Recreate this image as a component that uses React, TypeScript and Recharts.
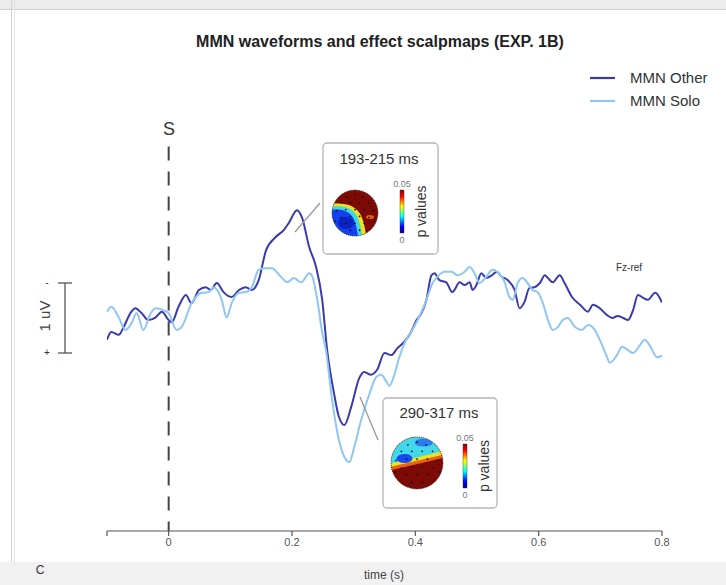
import React from 'react';
import { LineChart, Line, XAxis, YAxis, ReferenceLine } from 'recharts';

// ---- data (time in s, amplitude in µV; negative plotted upwards) ----
const otherTimes = [-0.1, -0.093, -0.081, -0.073, -0.062, -0.054, -0.044, -0.033, -0.021, -0.011, 0.0, 0.005, 0.016, 0.028, 0.037, 0.049, 0.06, 0.068, 0.078, 0.089, 0.102, 0.114, 0.125, 0.135, 0.146, 0.158, 0.174, 0.187, 0.195, 0.208, 0.216, 0.228, 0.239, 0.249, 0.257, 0.268, 0.276, 0.285, 0.296, 0.309, 0.317, 0.328, 0.338, 0.35, 0.361, 0.371, 0.382, 0.393, 0.402, 0.41, 0.418, 0.426, 0.431, 0.439, 0.45, 0.46, 0.472, 0.48, 0.488, 0.493, 0.499, 0.507, 0.515, 0.524, 0.532, 0.54, 0.55, 0.561, 0.569, 0.577, 0.585, 0.593, 0.602, 0.61, 0.615, 0.623, 0.634, 0.642, 0.654, 0.667, 0.68, 0.688, 0.699, 0.711, 0.72, 0.728, 0.737, 0.745, 0.753, 0.761, 0.769, 0.777, 0.789, 0.8];
const otherValues = [0.31, 0.2, 0.24, 0.13, -0.07, -0.14, -0.07, 0.03, -0.01, -0.09, 0.03, 0.06, -0.16, -0.33, -0.21, -0.4, -0.44, -0.4, -0.5, -0.37, -0.3, -0.4, -0.44, -0.4, -0.54, -0.97, -1.16, -1.26, -1.36, -1.54, -1.44, -1.01, -0.73, -0.26, 0.46, 1.07, 1.41, 1.53, 1.27, 0.86, 0.77, 0.81, 0.74, 0.5, 0.53, 0.43, 0.34, 0.2, 0.03, -0.07, -0.26, -0.61, -0.64, -0.54, -0.51, -0.37, -0.51, -0.47, -0.51, -0.4, -0.47, -0.64, -0.57, -0.61, -0.66, -0.59, -0.54, -0.4, -0.14, -0.23, -0.43, -0.44, -0.5, -0.61, -0.57, -0.51, -0.61, -0.5, -0.3, -0.19, -0.09, -0.19, -0.14, -0.04, 0.0, -0.03, 0.0, 0.03, -0.11, -0.33, -0.29, -0.26, -0.36, -0.22];
const soloTimes = [-0.1, -0.093, -0.081, -0.07, -0.06, -0.052, -0.041, -0.029, -0.021, -0.008, 0.0, 0.013, 0.021, 0.037, 0.054, 0.065, 0.073, 0.086, 0.094, 0.102, 0.114, 0.125, 0.135, 0.146, 0.158, 0.167, 0.182, 0.192, 0.203, 0.215, 0.228, 0.233, 0.241, 0.249, 0.255, 0.265, 0.276, 0.288, 0.293, 0.301, 0.312, 0.325, 0.337, 0.345, 0.353, 0.358, 0.366, 0.374, 0.385, 0.395, 0.407, 0.418, 0.428, 0.436, 0.447, 0.459, 0.468, 0.48, 0.488, 0.496, 0.504, 0.515, 0.525, 0.533, 0.545, 0.553, 0.558, 0.566, 0.574, 0.582, 0.59, 0.598, 0.607, 0.615, 0.623, 0.631, 0.639, 0.647, 0.659, 0.67, 0.68, 0.691, 0.699, 0.711, 0.715, 0.727, 0.735, 0.745, 0.753, 0.764, 0.772, 0.78, 0.792, 0.8];
const soloValues = [-0.09, -0.16, -0.01, 0.17, 0.07, -0.07, 0.17, -0.07, -0.14, -0.11, -0.07, 0.17, 0.13, -0.21, -0.36, -0.37, -0.44, -0.26, -0.01, -0.21, -0.36, -0.37, -0.44, -0.69, -0.71, -0.71, -0.59, -0.51, -0.57, -0.51, -0.64, -0.59, -0.26, 0.21, 0.46, 1.17, 1.74, 2.03, 2.06, 1.84, 1.46, 1.1, 0.84, 0.81, 0.91, 0.97, 0.81, 0.56, 0.31, 0.17, -0.03, -0.26, -0.5, -0.59, -0.66, -0.66, -0.61, -0.66, -0.73, -0.64, -0.5, -0.59, -0.69, -0.66, -0.51, -0.29, -0.26, -0.5, -0.57, -0.5, -0.4, -0.37, -0.21, 0.03, 0.17, 0.13, 0.03, 0.0, 0.13, 0.17, 0.1, 0.17, 0.31, 0.56, 0.64, 0.53, 0.41, 0.46, 0.5, 0.39, 0.31, 0.39, 0.56, 0.54];
const xTicks = [-0.1, 0, 0.2, 0.4, 0.6, 0.8];
const seriesNames = ['MMN Other', 'MMN Solo'];
const mapWindows = ['193-215 ms', '290-317 ms'];

const otherData = otherTimes.map((t, i) => ({ t, v: otherValues[i] }));
const soloData = soloTimes.map((t, i) => ({ t, v: soloValues[i] }));

const FONT = '"Liberation Sans", Arial, Helvetica, sans-serif';
const DARK = '#3a3aad';
const LIGHT = '#8fc6f3';

const electrodes: [number, number][] = [
  [0, -0.8], [-0.35, -0.7], [0.35, -0.7], [-0.6, -0.45], [-0.2, -0.45], [0.2, -0.45], [0.6, -0.45],
  [-0.8, -0.1], [-0.4, -0.15], [0, -0.15], [0.4, -0.15], [0.8, -0.1],
  [-0.6, 0.2], [-0.2, 0.15], [0.2, 0.15], [0.6, 0.2],
  [-0.4, 0.45], [0, 0.45], [0.4, 0.45], [-0.2, 0.75], [0.2, 0.75], [-0.85, 0.35], [0.85, 0.35],
];

function ScalpMap({ cx, cy, r, id, variant }: { cx: number; cy: number; r: number; id: string; variant: number }) {
  const s = r / 23;
  return (
    <g transform={`translate(${cx},${cy})`}>
      <defs>
        <clipPath id={id}>
          <circle cx={0} cy={0} r={r} />
        </clipPath>
      </defs>
      <g clipPath={`url(#${id})`}>
        <rect x={-r} y={-r} width={2 * r} height={2 * r} fill="#7e0a06" />
        {variant === 0 ? (
          <g transform={`scale(${s})`}>
            <path d="M -30 -8 C -18 -11, -4 -10, 2 -3 C 8 3, 10 12, 12 30 L -30 30 Z" fill="#f2e21a" />
            <path d="M -30 -5 C -18 -8, -6 -7, -1 -1 C 4 4, 6 12, 8 30 L -30 30 Z" fill="#3fd8e8" />
            <path d="M -30 -2 C -18 -5, -8 -3, -4 2 C 0 6, 2 14, 4 30 L -30 30 Z" fill="#1240f0" />
            <ellipse cx={-9} cy={10} rx={8} ry={6} fill="#0a18b0" opacity={0.75} />
            <ellipse cx={15} cy={4} rx={4} ry={2} fill="#e0601a" />
          </g>
        ) : (
          <g transform={`scale(${s})`}>
            <path d="M -30 8 L 30 -6 L 30 -30 L -30 -30 Z" fill="#e8601a" />
            <path d="M -30 5 L 30 -9 L 30 -30 L -30 -30 Z" fill="#f2e21a" />
            <path d="M -30 2 L 30 -12 L 30 -30 L -30 -30 Z" fill="#40d8ea" />
            <ellipse cx={-11} cy={-4} rx={7} ry={4} fill="#1a48f0" />
            <ellipse cx={6} cy={-18} rx={8} ry={3.5} fill="#2a7cf0" />
          </g>
        )}
        {electrodes.map(([ex, ey], i) => (
          <circle key={i} cx={ex * r} cy={ey * r} r={0.9} fill="#111" />
        ))}
      </g>
      <circle cx={0} cy={0} r={r} fill="none" stroke="#222" strokeWidth={0.8} strokeDasharray="1 1" />
    </g>
  );
}

function ColorBar({ x, y, h, id }: { x: number; y: number; h: number; id: string }) {
  return (
    <g>
      <defs>
        <linearGradient id={id} x1="0" y1="0" x2="0" y2="1">
          <stop offset="0%" stopColor="#800000" />
          <stop offset="15%" stopColor="#ff0000" />
          <stop offset="38%" stopColor="#ffff00" />
          <stop offset="62%" stopColor="#00ffff" />
          <stop offset="85%" stopColor="#0000ff" />
          <stop offset="100%" stopColor="#00008f" />
        </linearGradient>
      </defs>
      <rect x={x} y={y} width={4} height={h} fill={`url(#${id})`} stroke="#333" strokeWidth={0.4} />
      <text x={x + 2} y={y - 3} fontSize={9} textAnchor="middle" fill="#777" fontFamily={FONT}>0.05</text>
      <text x={x + 2} y={y + h + 10} fontSize={9} textAnchor="middle" fill="#777" fontFamily={FONT}>0</text>
      <text x={0} y={0} transform={`translate(${x + 21},${y + h / 2}) rotate(-90)`} fontSize={14} textAnchor="middle" dominantBaseline="central" fill="#333" fontFamily={FONT}>p values</text>
    </g>
  );
}

function Overlay() {
  return (
    <svg width={726} height={585} style={{ position: 'absolute', left: 0, top: 0, pointerEvents: 'none' }}>
      {/* page frame */}
      <rect x={0} y={0} width={726} height={9} fill="#ececec" />
      <line x1={0} y1={9.5} x2={726} y2={9.5} stroke="#cfcfcf" strokeWidth={1} />
      <line x1={11.5} y1={0} x2={11.5} y2={585} stroke="#d4d4d4" strokeWidth={1} />
      <line x1={14.5} y1={0} x2={14.5} y2={585} stroke="#e2e2e2" strokeWidth={1} />
      <rect x={0} y={562} width={726} height={23} fill="#f1f1f1" />

      <text x={380} y={47} textAnchor="middle" fontSize={16} fontWeight="bold" fill="#222" fontFamily={FONT}>
        MMN waveforms and effect scalpmaps (EXP. 1B)
      </text>

      {/* legend */}
      <line x1={590} y1={78} x2={615} y2={78} stroke={DARK} strokeWidth={2.2} />
      <text x={630} y={83} fontSize={15} fill="#333" fontFamily={FONT}>{seriesNames[0]}</text>
      <line x1={590} y1={101} x2={615} y2={101} stroke={LIGHT} strokeWidth={2.2} />
      <text x={630} y={106} fontSize={15} fill="#333" fontFamily={FONT}>{seriesNames[1]}</text>

      {/* stimulus label */}
      <text x={169} y={135} textAnchor="middle" fontSize={18} fill="#333" fontFamily={FONT}>S</text>

      {/* scale bar */}
      <line x1={65} y1={283} x2={65} y2={353} stroke="#555" strokeWidth={1.3} />
      <line x1={58} y1={283} x2={72} y2={283} stroke="#555" strokeWidth={1.3} />
      <line x1={58} y1={353} x2={72} y2={353} stroke="#555" strokeWidth={1.3} />
      <text x={47} y={286} fontSize={10} textAnchor="middle" fill="#333" fontFamily={FONT}>-</text>
      <text x={47} y={356} fontSize={10} textAnchor="middle" fill="#333" fontFamily={FONT}>+</text>
      <text x={0} y={0} transform="translate(44,316) rotate(-90)" fontSize={15} textAnchor="middle" dominantBaseline="central" fill="#444" fontFamily={FONT}>1 uV</text>

      <text x={629} y={271} fontSize={10} textAnchor="middle" fill="#333" fontFamily={FONT}>Fz-ref</text>

      {/* connectors */}
      <line x1={295} y1={232} x2={320} y2={203} stroke="#999" strokeWidth={1.3} />
      <line x1={360} y1={397} x2={378} y2={440} stroke="#999" strokeWidth={1.3} />

      {/* inset 1 */}
      <rect x={323} y={143} width={115} height={111} rx={4} fill="#fff" stroke="#b4b4b4" strokeWidth={1.3} />
      <text x={379} y={164} textAnchor="middle" fontSize={15} fill="#333" fontFamily={FONT}>{mapWindows[0]}</text>
      <ScalpMap cx={355} cy={213} r={23} id="clipA" variant={0} />
      <ColorBar x={400} y={190} h={43} id="gradA" />

      {/* inset 2 */}
      <rect x={383} y={398} width={114} height={110} rx={4} fill="#fff" stroke="#b4b4b4" strokeWidth={1.3} />
      <text x={439} y={418} textAnchor="middle" fontSize={15} fill="#333" fontFamily={FONT}>{mapWindows[1]}</text>
      <ScalpMap cx={417} cy={463} r={26} id="clipB" variant={1} />
      <ColorBar x={463} y={444} h={44} id="gradB" />

      <text x={40} y={574} fontSize={12} textAnchor="middle" fill="#333" fontFamily={FONT}>C</text>
      <text x={384} y={579} fontSize={12} textAnchor="middle" fill="#444" fontFamily={FONT}>time (s)</text>
    </svg>
  );
}

export default function App() {
  return (
    <div style={{ position: 'absolute', left: 0, top: 0, width: 726, height: 585, background: '#fff' }}>
      <LineChart width={726} height={585} margin={{ top: 108, right: 64, bottom: 24, left: 107 }}>
        <XAxis
          dataKey="t"
          type="number"
          domain={[-0.1, 0.8]}
          ticks={xTicks}
          tickFormatter={(v: number) => (v < -0.05 ? '' : String(v))}
          axisLine={{ stroke: '#555', strokeWidth: 1.2 }}
          tickLine={{ stroke: '#555', strokeWidth: 1.2 }}
          tickSize={5}
          tick={{ fill: '#555', fontSize: 11, fontFamily: FONT }}
          height={30}
          allowDataOverflow
        />
        <YAxis type="number" domain={[-3, 3.043]} reversed hide allowDataOverflow />
        <ReferenceLine
          segment={[{ x: 0, y: -2.45 }, { x: 0, y: 3.043 }]}
          stroke="#444"
          strokeWidth={2}
          strokeDasharray="14 11"
          ifOverflow="visible"
        />
        <Line data={otherData} dataKey="v" name={seriesNames[0]} type="monotone" stroke={DARK} strokeWidth={2} dot={false} isAnimationActive={false} />
        <Line data={soloData} dataKey="v" name={seriesNames[1]} type="monotone" stroke={LIGHT} strokeWidth={2} dot={false} isAnimationActive={false} />
      </LineChart>
      <Overlay />
    </div>
  );
}
